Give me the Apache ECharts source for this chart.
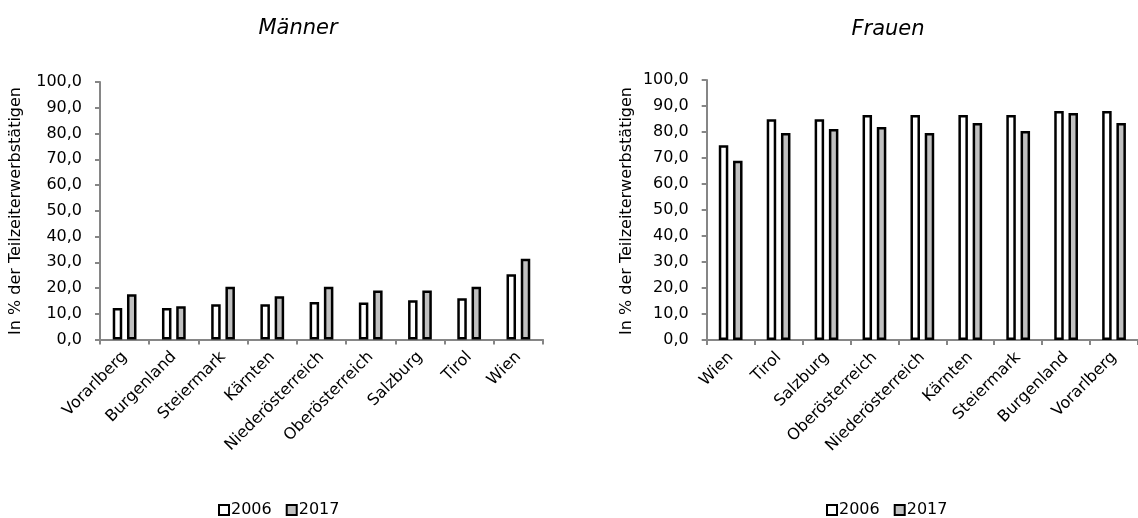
<!DOCTYPE html>
<html>
<head>
<meta charset="utf-8">
<script src="https://cdn.jsdelivr.net/npm/echarts@6/dist/echarts.min.js"></script>
<style>
  html, body { margin: 0; padding: 0; background: #fff; }
  #chart { width: 1138px; height: 518px; }
</style>
</head>
<body>
<div id="chart"></div>
<script>
// Teilzeitquote nach Bundesland, 2006 und 2017
const yearLabels = ['2006', '2017'];
const yTicks = [0, 10, 20, 30, 40, 50, 60, 70, 80, 90, 100];

const menCategories = ['Vorarlberg', 'Burgenland', 'Steiermark', 'Kärnten', 'Niederösterreich', 'Oberösterreich', 'Salzburg', 'Tirol', 'Wien'];
const men2006 = [12.2, 12.2, 13.7, 13.7, 14.6, 14.4, 15.2, 16.0, 25.3];
const men2017 = [17.6, 12.9, 20.5, 16.8, 20.5, 19.0, 19.0, 20.5, 31.4];

const womenCategories = ['Wien', 'Tirol', 'Salzburg', 'Oberösterreich', 'Niederösterreich', 'Kärnten', 'Steiermark', 'Burgenland', 'Vorarlberg'];
const women2006 = [74.9, 84.9, 84.9, 86.5, 86.5, 86.5, 86.5, 88.1, 88.1];
const women2017 = [68.9, 79.6, 81.2, 81.9, 79.6, 83.5, 80.4, 87.3, 83.5];

const FONT = 'DejaVu Sans';
const AXIS_GREY = '#868686';
const FILLS = ['#ffffff', '#c0c0c0'];
const axisTitle = 'In % der Teilzeiterwerbstätigen';

const chart = echarts.init(document.getElementById('chart'), null, { renderer: 'canvas' });

function xAxisFor(gridIndex, cats) {
  return {
    type: 'category',
    gridIndex: gridIndex,
    data: cats,
    axisLine: { lineStyle: { color: AXIS_GREY, width: 2 } },
    axisTick: { show: true, length: 5, lineStyle: { color: AXIS_GREY, width: 2 }, alignWithLabel: false },
    axisLabel: { interval: 0, rotate: 45, margin: 15, color: '#000', fontFamily: FONT, fontSize: 16 },
    splitLine: { show: false }
  };
}

function yAxisFor(gridIndex) {
  return {
    type: 'value',
    gridIndex: gridIndex,
    min: yTicks[0],
    max: yTicks[yTicks.length - 1],
    interval: yTicks[1] - yTicks[0],
    axisLine: { show: true, lineStyle: { color: AXIS_GREY, width: 2 } },
    axisTick: { show: true, length: 5, lineStyle: { color: AXIS_GREY, width: 2 } },
    axisLabel: {
      margin: 18, color: '#000', fontFamily: FONT, fontSize: 16,
      formatter: v => v.toFixed(1).replace('.', ',')
    },
    splitLine: { show: false }
  };
}

function barSeries(name, idx, data, fill) {
  return {
    name: name,
    type: 'bar',
    xAxisIndex: idx,
    yAxisIndex: idx,
    data: data,
    barWidth: 9.5,
    barGap: '50%',
    itemStyle: { color: fill, borderColor: '#000', borderWidth: 2.5 },
    emphasis: { disabled: true },
    animation: false
  };
}

function legendAt(left) {
  return {
    data: yearLabels,
    left: left,
    top: 497,
    orient: 'horizontal',
    icon: 'rect',
    itemWidth: 10,
    itemHeight: 10,
    itemGap: 14,
    selectedMode: false,
    itemStyle: { borderColor: '#000', borderWidth: 2 },
    textStyle: { color: '#000', fontFamily: FONT, fontSize: 16, padding: [0, 0, 0, -3] }
  };
}

const option = {
  animation: false,
  backgroundColor: '#fff',
  grid: [
    { left: 100, right: 595, top: 82, bottom: 178.5 },
    { left: 706.7, right: -12.5, top: 80, bottom: 178 }
  ],
  xAxis: [xAxisFor(0, menCategories), xAxisFor(1, womenCategories)],
  yAxis: [yAxisFor(0), yAxisFor(1)],
  legend: [legendAt(213), legendAt(821)],
  series: [
    barSeries(yearLabels[0], 0, men2006, FILLS[0]),
    barSeries(yearLabels[1], 0, men2017, FILLS[1]),
    barSeries(yearLabels[0], 1, women2006, FILLS[0]),
    barSeries(yearLabels[1], 1, women2017, FILLS[1])
  ],
  graphic: [
    { type: 'text', x: 298, y: 29, style: { text: 'Männer', fontFamily: FONT, fontStyle: 'italic', fontSize: 21, fill: '#000', align: 'center', verticalAlign: 'middle' } },
    { type: 'text', x: 888, y: 30, style: { text: 'Frauen', fontFamily: FONT, fontStyle: 'italic', fontSize: 21, fill: '#000', align: 'center', verticalAlign: 'middle' } },
    { type: 'text', x: 16, y: 211, rotation: Math.PI / 2, style: { text: axisTitle, fontFamily: FONT, fontSize: 16, fill: '#000', align: 'center', verticalAlign: 'middle' } },
    { type: 'text', x: 627, y: 211, rotation: Math.PI / 2, style: { text: axisTitle, fontFamily: FONT, fontSize: 16, fill: '#000', align: 'center', verticalAlign: 'middle' } }
  ]
};

chart.setOption(option);
</script>
</body>
</html>
